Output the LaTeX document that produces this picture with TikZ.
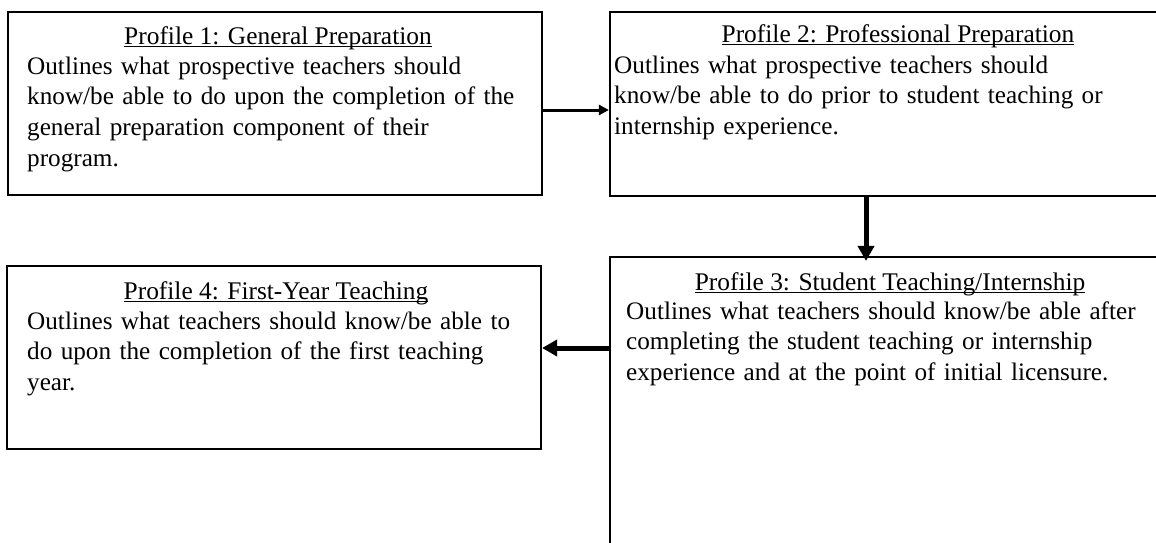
\documentclass[tikz,border=0pt]{standalone}
\usepackage{fontspec}
\setmainfont{Liberation Serif}
\usetikzlibrary{arrows.meta}

% underline that sits just under the baseline and cuts through descenders
\newsavebox{\ttlbox}
\newcommand{\ttlline}[1]{\sbox{\ttlbox}{#1}\rlap{\rule[-3.2pt]{\wd\ttlbox}{1.6pt}}\usebox{\ttlbox}}

\begin{document}
\begin{tikzpicture}[x=1pt,y=-1pt,
  profilebox/.style 2 args={draw=black, line width=2.2pt, inner sep=0pt,
    minimum width=#1, minimum height=#2},
  titletext/.style={anchor=base, inner sep=0pt, font=\fontsize{25.4}{30}\selectfont},
  bodytext/.style={anchor=base west, inner sep=0pt, align=left, text width=560pt,
    font=\fontsize{25.2}{30.5}\selectfont},
  thinarrow/.style={line width=3pt, -{Triangle[length=10pt,width=10pt]}},
  thickarrow/.style={line width=5pt, -{Triangle[length=15pt,width=16pt]}}
]
\useasboundingbox (0,0) rectangle (1156,542);
\clip (0,0) rectangle (1156,542);

% profile boxes
\node[profilebox={534pt}{183pt}] (b1) at (275,103.5) {};
\node[profilebox={580pt}{184pt}] (b2) at (900,104) {};
\node[profilebox={560pt}{343pt}] (b3) at (890,428.5) {};
\node[profilebox={534pt}{183pt}] (b4) at (274,357.5) {};

% titles
\node[titletext] (t1) at (278,44) {\ttlline{Profile 1: General Preparation}};
\node[titletext] (t2) at (898,42) {\ttlline{Profile 2: Professional Preparation}};
\node[titletext] (t3) at (890,290) {\ttlline{Profile 3: Student Teaching/Internship}};
\node[titletext] (t4) at (276,299) {\ttlline{Profile 4: First-Year Teaching}};

% descriptions
\node[bodytext] (d1) at (27,74) {Outlines what prospective teachers should\\
  know/be able to do upon the completion of the\\
  general preparation component of their\\[1pt]
  program.};
\node[bodytext] (d2) at (614,73) {Outlines what prospective teachers should\\
  know/be able to do prior to student teaching or\\
  internship experience.};
\node[bodytext] (d3) at (626,319) {Outlines what teachers should know/be able after\\
  completing the student teaching or internship\\
  experience and at the point of initial licensure.};
\node[bodytext] (d4) at (27,329) {Outlines what teachers should know/be able to\\
  do upon the completion of the first teaching\\
  year.};

% connectors
\draw[thinarrow] ([yshift=-6.5pt]b1.east) -- ([yshift=-6.5pt]b1.east -| b2.west);
\draw[thickarrow] ([xshift=-34pt]b2.south) -- ([xshift=-34pt,yshift=-5pt]b2.south |- b3.north);
\draw[thickarrow] ([yshift=9.5pt]b4.east -| b3.west) -- ([yshift=9.5pt]b4.east);
\end{tikzpicture}
\end{document}
